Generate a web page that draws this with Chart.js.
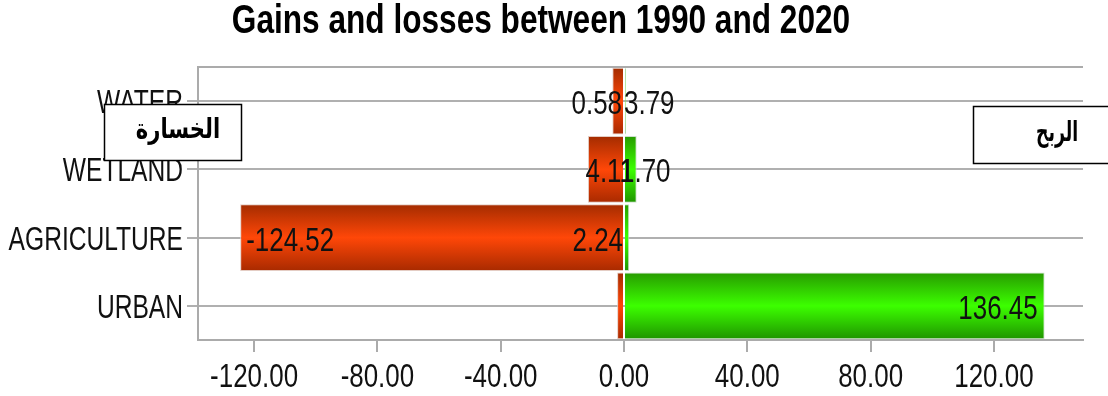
<!DOCTYPE html>
<html>
<head>
<meta charset="utf-8">
<script src="https://cdn.jsdelivr.net/npm/chart.js@4/dist/chart.umd.min.js"></script>
<style>
  html, body { margin: 0; padding: 0; background: #ffffff; }
  #wrap { width: 1108px; height: 396px; }
</style>
</head>
<body>
<div id="wrap"><canvas id="chart" width="1108" height="396"></canvas></div>
<script>
// Land-cover categories and their change (km²) between 1990 and 2020
const categories = ['WATER', 'WETLAND', 'AGRICULTURE', 'URBAN'];
const losses = [-3.79, -11.70, -124.52, -2.24];
const gains = [0.58, 4.11, 1.70, 136.45];
const xTicks = [-120, -80, -40, 0, 40, 80, 120];
const xRange = [-138.2, 148.9];
const chartTitle = 'Gains and losses between 1990 and 2020';
const lossCaption = 'الخسارة';
const gainCaption = 'الربح';

const SANS = '"Liberation Sans", Arial, sans-serif';
const TEXT_COLOR = '#111111';

// text in a condensed sans: the regular face squeezed horizontally
function narrowText(ctx, text, x, y, opts) {
  ctx.save();
  ctx.font = (opts.weight || 'normal') + ' ' + opts.size + 'px ' + SANS;
  ctx.fillStyle = opts.color || TEXT_COLOR;
  ctx.textAlign = opts.align || 'left';
  ctx.textBaseline = 'alphabetic';
  ctx.translate(x, y);
  ctx.scale(opts.sx, 1);
  ctx.fillText(text, 0, 0);
  ctx.restore();
}

// vertical shading for each bar: dark edges, bright middle
function barGradient(stops) {
  return function (ctx) {
    const chart = ctx.chart;
    const area = chart.chartArea;
    if (!area) return stops[1];
    const yScale = chart.scales.y;
    const yc = yScale.getPixelForValue(ctx.dataIndex);
    const half = (area.bottom - area.top) / categories.length * 0.98 / 2;
    const g = chart.ctx.createLinearGradient(0, yc - half, 0, yc + half);
    g.addColorStop(0, stops[0]);
    g.addColorStop(0.5, stops[1]);
    g.addColorStop(1, stops[2]);
    return g;
  };
}

// top frame line of the plot area
const frameTop = {
  id: 'frameTop',
  beforeDatasetsDraw(chart) {
    const { ctx, chartArea } = chart;
    ctx.save();
    ctx.strokeStyle = '#ababab';
    ctx.lineWidth = 2;
    ctx.beginPath();
    ctx.moveTo(chartArea.left, chartArea.top);
    ctx.lineTo(chartArea.right, chartArea.top);
    ctx.stroke();
    ctx.restore();
  }
};

// title, axis tick labels and bar value labels
const chartText = {
  id: 'chartText',
  afterDatasetsDraw(chart) {
    const { ctx, chartArea } = chart;
    const x = chart.scales.x, y = chart.scales.y;

    narrowText(ctx, chartTitle, 541, 33, { size: 40, sx: 0.79, weight: 'bold', align: 'center', color: '#000000' });

    xTicks.forEach(v => {
      narrowText(ctx, v.toFixed(2), x.getPixelForValue(v), chartArea.bottom + 47, { size: 33, sx: 0.786, align: 'center' });
    });
    categories.forEach((c, i) => {
      narrowText(ctx, c, chartArea.left - 15, y.getPixelForValue(i) + 12, { size: 33, sx: 0.745, align: 'right' });
    });

    const x0 = x.getPixelForValue(0);
    const abs = v => Math.abs(v).toFixed(2);
    const items = [
      { text: abs(gains[0]), row: 0, x: x0 - 2, align: 'right' },
      { text: abs(losses[0]), row: 0, x: x0, align: 'left' },
      { text: abs(gains[1]), row: 1, x: x0 + 10, align: 'right' },
      { text: abs(gains[2]), row: 1, x: x0 - 4, align: 'left' },
      { text: losses[2].toFixed(2), row: 2, x: x.getPixelForValue(losses[2]) + 6, align: 'left' },
      { text: abs(losses[3]), row: 2, x: x0 - 1, align: 'right' },
      { text: gains[3].toFixed(2), row: 3, x: x.getPixelForValue(gains[3]) - 7, align: 'right' }
    ];
    items.forEach(it => {
      narrowText(ctx, it.text, it.x, y.getPixelForValue(it.row) + 13, { size: 33, sx: 0.786, align: it.align });
    });
  }
};

// boxed captions for the loss (left) and gain (right) sides
const sideCaptions = {
  id: 'sideCaptions',
  afterDraw(chart) {
    const { ctx } = chart;
    const boxes = [
      { text: lossCaption, x: 104, y: 104, w: 137, h: 56, cx: 178, sx: 0.88 },
      { text: gainCaption, x: 973, y: 106, w: 140, h: 57, cx: 1057, sx: 0.72 }
    ];
    ctx.save();
    boxes.forEach(b => {
      ctx.fillStyle = '#ffffff';
      ctx.fillRect(b.x, b.y, b.w, b.h);
      ctx.strokeStyle = '#000000';
      ctx.lineWidth = 1.5;
      ctx.strokeRect(b.x + 0.5, b.y + 0.5, b.w, b.h);
      ctx.save();
      ctx.fillStyle = '#000000';
      ctx.font = 'bold 24px "DejaVu Sans", sans-serif';
      ctx.textAlign = 'center';
      ctx.textBaseline = 'middle';
      ctx.translate(b.cx, b.y + b.h / 2 - 1);
      ctx.scale(b.sx, 1.15);
      ctx.fillText(b.text, 0, 0);
      ctx.restore();
    });
    ctx.restore();
  }
};

new Chart(document.getElementById('chart'), {
  type: 'bar',
  data: {
    labels: categories,
    datasets: [
      {
        label: 'Losses',
        data: losses,
        backgroundColor: barGradient(['#a32c00', '#ff4708', '#a82a00']),
        borderColor: 'rgba(225,200,190,0.9)',
        borderWidth: 1,
        borderSkipped: 'start',
        barPercentage: 0.98,
        categoryPercentage: 1.0
      },
      {
        label: 'Gains',
        data: gains,
        backgroundColor: barGradient(['#279a00', '#3cff00', '#1f9400']),
        borderColor: 'rgba(200,220,200,0.9)',
        borderWidth: 1,
        borderSkipped: 'start',
        barPercentage: 0.98,
        categoryPercentage: 1.0
      }
    ]
  },
  options: {
    indexAxis: 'y',
    responsive: false,
    animation: false,
    layout: { padding: { left: 0, right: 25, top: 67, bottom: 0 } },
    plugins: {
      legend: { display: false },
      tooltip: { enabled: false },
      title: { display: false }
    },
    scales: {
      x: {
        stacked: true,
        min: xRange[0],
        max: xRange[1],
        afterBuildTicks(scale) { scale.ticks = xTicks.map(v => ({ value: v })); },
        afterFit(scale) { scale.height = 56; },
        ticks: { display: false },
        grid: { drawOnChartArea: false, drawTicks: true, tickLength: 12, color: '#ababab', lineWidth: 2 },
        border: { color: '#ababab', width: 2 }
      },
      y: {
        stacked: true,
        afterFit(scale) { scale.width = 198; },
        ticks: { display: false },
        grid: { offset: false, color: '#b0b0b0', lineWidth: 2, tickLength: 11 },
        border: { color: '#ababab', width: 2 }
      }
    }
  },
  plugins: [frameTop, chartText, sideCaptions]
});
</script>
</body>
</html>
